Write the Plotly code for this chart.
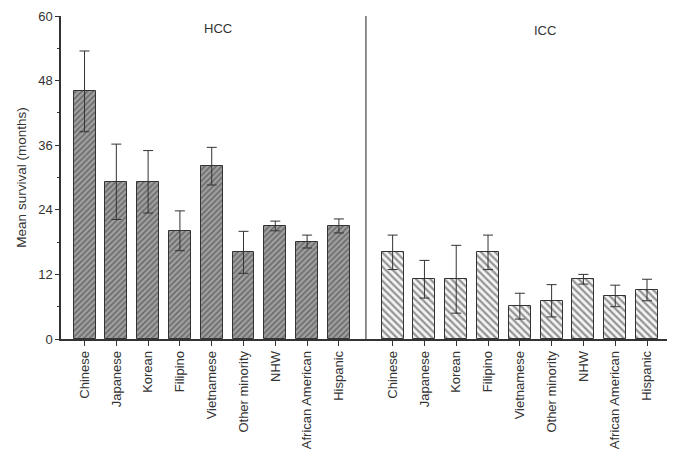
import plotly.graph_objects as go

categories = ["Chinese", "Japanese", "Korean", "Filipino", "Vietnamese",
              "Other minority", "NHW", "African American", "Hispanic"]
hcc_mean = [46.0, 29.2, 29.2, 20.1, 32.1, 16.1, 21.0, 18.1, 21.0]
hcc_err = [7.5, 7.0, 5.8, 3.7, 3.5, 3.9, 0.9, 1.2, 1.3]
icc_mean = [16.1, 11.1, 11.1, 16.1, 6.1, 7.1, 11.1, 8.0, 9.1]
icc_err = [3.2, 3.5, 6.3, 3.2, 2.4, 3.0, 0.9, 2.0, 2.0]
group_labels = ["HCC", "ICC"]
y_ticks = [0, 12, 24, 36, 48, 60]

icc_offset = 9.69
x_hcc = [i for i in range(len(categories))]
x_icc = [icc_offset + i for i in range(len(categories))]

fig = go.Figure()
fig.add_trace(go.Bar(
    x=x_hcc, y=hcc_mean, width=0.69,
    marker=dict(color="#9a9a9a", line=dict(color="#333333", width=1),
                pattern=dict(shape="/", fgcolor="#333333", bgcolor="#a0a0a0",
                             size=4, solidity=0.4)),
    error_y=dict(type="data", array=hcc_err, color="#333333", thickness=1, width=5),
    showlegend=False))
fig.add_trace(go.Bar(
    x=x_icc, y=icc_mean, width=0.69,
    marker=dict(color="white", line=dict(color="#333333", width=1),
                pattern=dict(shape="\\", fgcolor="#333333", bgcolor="#f4f4f4",
                             size=5, solidity=0.45)),
    error_y=dict(type="data", array=icc_err, color="#333333", thickness=1, width=5),
    showlegend=False))

fig.add_shape(type="line", xref="x", yref="y", x0=8.85, x1=8.85, y0=0, y1=60,
              line=dict(color="#444444", width=1.2))

fig.add_annotation(x=4.2, y=59.5, xref="x", yref="y", text=group_labels[0],
                   showarrow=False, yanchor="top",
                   font=dict(size=13, color="#333333"))
fig.add_annotation(x=icc_offset + 4.8, y=59.0, xref="x", yref="y", text=group_labels[1],
                   showarrow=False, yanchor="top",
                   font=dict(size=13, color="#333333"))

fig.update_layout(
    width=675, height=450,
    margin=dict(l=53, r=15, t=8, b=119),
    plot_bgcolor="white", paper_bgcolor="white",
    font=dict(family="Liberation Sans, Arial, sans-serif", size=13, color="#333333"),
    bargap=0,
    xaxis=dict(range=[-0.74, 18.35], tickvals=x_hcc + x_icc,
               ticktext=categories + categories, tickangle=-90,
               ticks="outside", ticklen=5, tickcolor="#333333",
               showline=True, linecolor="#333333", linewidth=1.5,
               showgrid=False, zeroline=False, tickfont=dict(size=13),
               automargin=False),
    yaxis=dict(range=[0, 60], tickvals=y_ticks, ticks="outside", ticklen=4,
               tickcolor="#333333", showline=True, linecolor="#333333",
               linewidth=1.5, showgrid=False, zeroline=False,
               title=dict(text="Mean survival (months)", font=dict(size=13.5), standoff=8),
               tickfont=dict(size=13), automargin=False,
               minor=dict(tickvals=[6, 18, 30, 42, 54], ticks="outside",
                          ticklen=2, tickcolor="#333333")),
)

fig.write_html("out.html")
